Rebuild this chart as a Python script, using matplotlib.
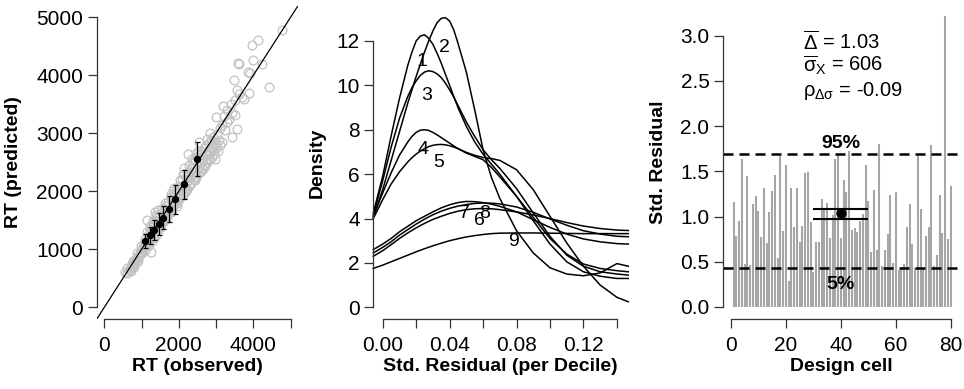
import matplotlib
matplotlib.use('Agg')
import matplotlib.pyplot as plt
import numpy as np

plt.rcParams['font.family'] = ['Liberation Sans', 'DejaVu Sans']
plt.rcParams['mathtext.fontset'] = 'custom'
plt.rcParams['mathtext.rm'] = 'Liberation Sans'
plt.rcParams['mathtext.it'] = 'Liberation Sans'
plt.rcParams['mathtext.bf'] = 'Liberation Sans:bold'

# ---- panel 1: observed vs predicted RT (per design cell x quantile)
rt_obs = [660, 690, 710, 730, 750, 770, 790, 810, 830, 850, 870, 890, 910, 930, 950,
          970, 990, 1010, 1030, 1050, 1070, 1090, 720, 800, 900, 1000, 760, 880, 980, 1060,
          1100, 1120, 1150, 1160, 1180, 1200, 1220, 1240, 1260, 1270, 1290, 1300, 1320, 1340,
          1350, 1360, 1380, 1400, 1420, 1440, 1450, 1460, 1480, 1500, 1520, 1540, 1550, 1560,
          1580, 1600, 1620, 1640, 1660, 1680, 1700, 1720, 1740, 1760, 1780, 1800, 1820, 1840,
          1850, 1860, 1880, 1900, 1920, 1940, 1960, 1980, 2000, 1250, 1400, 1600, 1800, 1950,
          2020, 2040, 2060, 2080, 2100, 2120, 2140, 2160, 2180, 2200, 2220, 2240, 2260, 2280,
          2300, 2320, 2340, 2360, 2380, 2400, 2420, 2440, 2460, 2480, 2500, 2520, 2540, 2560,
          2580, 2600, 2620, 2640, 2660, 2680, 2700, 2720, 2740, 2760, 2780, 2800, 2820, 2840,
          2860, 2880, 2900, 2920, 2940, 2960, 2980, 3000, 3020, 3050, 3080, 3100,
          3000, 3100, 3195, 3285, 3419, 3508, 3554, 3419, 3168, 3250, 3300, 3482, 3554, 3626,
          3750, 3508, 3598, 3620, 3866, 3900, 4000, 4242, 3973, 4134, 4421, 4779, 3886, 3700,
          3400, 3350, 3200, 3150,
          560, 600, 620, 1150, 1230, 1310, 1390, 1470, 1550, 1630, 1710, 1790, 1870, 1950,
          2030, 2110, 2190, 2270, 2350, 2430, 2510, 2590, 2670, 2750, 2830, 2910, 2990,
          1180, 1330, 1490, 1650, 1810, 1970, 2130, 2290, 2450, 2610, 2770, 2930,
          2250, 2550, 2850, 2150, 2450, 2750]
rt_pred = [640, 650, 700, 690, 740, 720, 760, 780, 790, 830, 820, 860, 890, 880, 930,
           940, 960, 1000, 990, 1040, 1030, 1070, 620, 700, 800, 930, 800, 940, 1050, 1110,
           1180, 1000, 1500, 1150, 1250, 1080, 1320, 1200, 1380, 1150, 1300, 1450, 1230, 1400,
           1650, 1290, 1480, 1350, 1550, 1380, 1680, 1450, 1600, 1420, 1560, 1480, 1700, 1620,
           1500, 1680, 1560, 1750, 1600, 1700, 1820, 1640, 1780, 1700, 1900, 1720, 1850, 1760,
           2000, 1900, 1780, 1950, 1850, 2050, 1900, 2000, 1920, 960, 1250, 1480, 1650, 1800,
           2090, 1900, 2020, 2190, 1940, 2090, 2290, 2000, 2140, 2240, 2040, 2190, 2340, 2090,
           2240, 2390, 2140, 2290, 2490, 2190, 2340, 2540, 2240, 2390, 2590, 2290, 2440, 2640,
           2340, 2490, 2690, 2390, 2560, 2740, 2440, 2620, 2790, 2500, 2640, 2840, 2540, 2690,
           2890, 2600, 2740, 2940, 2640, 2790, 2560, 2840, 2990, 2690, 2890, 2790,
           3275, 3100, 3470, 3400, 3355, 3315, 3068, 2930, 2855, 3050, 3200, 3918, 3745, 3671,
           3586, 3574, 4206, 4190, 4063, 4040, 4264, 4195, 4522, 4609, 3804, 4781, 3700, 3620,
           3500, 3250, 3300, 3150,
           610, 600, 680, 1300, 1400, 1480, 1600, 1350, 1700, 1800, 1600, 1950, 2050, 1750,
           2200, 2300, 2000, 2450, 2550, 2200, 2700, 2350, 2450, 2650, 2550, 2750, 2750,
           1090, 1200, 1380, 1520, 1680, 1830, 1970, 2120, 2260, 2400, 2560, 2700,
           2650, 2850, 3000, 2400, 2650, 2900]
dec_obs = [1093, 1227, 1342, 1460, 1584, 1737, 1906, 2148, 2497]
dec_pred = [1148, 1241, 1333, 1431, 1545, 1690, 1862, 2121, 2562]
dec_err = [120, 145, 170, 190, 200, 225, 245, 250, 295]

# ---- panel 2: density of std. residuals per decile
# deciles 1-5 are peaked, read on a finer grid
peak_x = [-0.0056, 0.0, 0.005, 0.01, 0.015, 0.0175, 0.02, 0.0225, 0.025, 0.0275, 0.03,
          0.0325, 0.035, 0.0375, 0.04, 0.0425, 0.045, 0.05, 0.055, 0.06, 0.065, 0.07,
          0.08, 0.09, 0.10, 0.11, 0.12, 0.13, 0.14, 0.1468]
dens_1 = [4.25, 5.9, 7.7, 9.4, 10.9, 11.5, 12.0, 12.22, 12.28, 12.12, 11.85, 11.45, 11.0,
          10.5, 10.0, 9.5, 9.0, 8.15, 7.45, 6.9, 6.45, 6.0, 5.0, 3.9, 2.85, 2.05, 1.6, 1.4,
          1.3, 1.3]
dens_2 = [4.05, 5.3, 6.6, 7.9, 9.2, 9.8, 10.4, 10.95, 11.5, 12.0, 12.45, 12.82, 13.02,
          13.05, 12.9, 12.5, 11.9, 10.6, 8.9, 7.1, 5.85, 4.91, 3.45, 2.45, 1.78, 1.5, 1.42,
          1.55, 1.97, 1.85]
dens_3 = [4.15, 5.7, 7.2, 8.5, 9.5, 9.9, 10.2, 10.45, 10.6, 10.66, 10.62, 10.52, 10.35,
          10.1, 9.8, 9.47, 9.1, 8.35, 7.7, 7.1, 6.65, 6.26, 5.35, 4.25, 3.2, 2.35, 1.85, 1.6,
          1.5, 1.45]
dens_4 = [4.1, 5.15, 6.05, 6.85, 7.45, 7.7, 7.88, 7.98, 8.0, 7.97, 7.88, 7.77, 7.65, 7.52,
          7.4, 7.27, 7.15, 6.95, 6.8, 6.65, 6.3, 5.88, 5.0, 4.05, 3.1, 2.4, 1.95, 1.75, 1.65,
          1.6]
dens_5 = [4.0, 4.85, 5.55, 6.1, 6.55, 6.74, 6.9, 7.04, 7.15, 7.24, 7.3, 7.33, 7.34, 7.32,
          7.28, 7.22, 7.15, 6.98, 6.85, 6.75, 6.7, 6.62, 6.2, 5.3, 4.1, 2.9, 1.85, 1.0, 0.45,
          0.25]
# deciles 6-9 are flat
flat_x = [-0.0056, 0.0, 0.005, 0.01, 0.015, 0.02, 0.025, 0.03, 0.035, 0.04, 0.045, 0.05,
          0.055, 0.06, 0.065, 0.07, 0.08, 0.09, 0.10, 0.11, 0.12, 0.13, 0.14, 0.1468]
dens_6 = [2.3, 2.55, 2.82, 3.1, 3.35, 3.58, 3.78, 3.96, 4.1, 4.23, 4.33, 4.4,
          4.44, 4.45, 4.44, 4.4, 4.3, 4.16, 4.0, 3.82, 3.66, 3.55, 3.48, 3.46]
dens_7 = [2.6, 2.85, 3.1, 3.4, 3.65, 3.9, 4.1, 4.3, 4.48, 4.62, 4.72, 4.77,
          4.76, 4.72, 4.65, 4.55, 4.3, 3.95, 3.6, 3.3, 3.08, 2.95, 2.87, 2.85]
dens_8 = [2.45, 2.7, 2.95, 3.25, 3.5, 3.75, 3.97, 4.17, 4.33, 4.46, 4.56, 4.63,
          4.68, 4.7, 4.69, 4.66, 4.52, 4.28, 3.98, 3.7, 3.45, 3.3, 3.2, 3.18]
dens_9 = [1.75, 1.9, 2.05, 2.2, 2.35, 2.5, 2.64, 2.77, 2.89, 3.0, 3.09, 3.17,
          3.23, 3.28, 3.32, 3.34, 3.35, 3.35, 3.34, 3.33, 3.32, 3.32, 3.32, 3.32]
decile_names = ['1', '2', '3', '4', '5', '6', '7', '8', '9']
label_x = [0.0233, 0.0367, 0.0263, 0.0239, 0.0337, 0.058, 0.049, 0.061, 0.078]
label_y = [11.06, 11.71, 9.56, 7.13, 6.53, 3.93, 4.23, 4.23, 2.96]

# ---- panel 3: std. residual per design cell
cell_resid = [1.16, 0.78, 0.95, 1.64, 0.48, 1.45, 0.46, 1.14, 1.23, 1.06,
              0.77, 1.32, 0.71, 1.05, 1.28, 1.46, 0.54, 1.67, 0.84, 1.57,
              0.29, 1.32, 0.89, 1.32, 0.72, 0.90, 1.48, 1.49, 0.94, 0.39,
              0.72, 0.72, 1.19, 1.10, 1.15, 0.76, 1.02, 1.64, 1.68, 0.76,
              1.40, 1.27, 1.72, 0.85, 0.87, 0.83, 0.95, 1.03, 1.57, 1.17,
              0.61, 1.29, 0.63, 1.80, 0.45, 0.63, 0.81, 1.24, 0.49, 1.27,
              0.41, 0.42, 0.48, 0.88, 1.14, 0.70, 0.43, 1.67, 1.08, 0.43,
              0.78, 0.89, 1.79, 0.45, 0.58, 1.24, 0.82, 3.22, 0.75, 1.34]
q95, q05 = 1.69, 0.43
mean_resid, mean_lo, mean_hi = 1.036, 0.973, 1.084
mean_span = (30, 50)
stats_text = [r'$\overline{\Delta}$ = 1.03', r'$\overline{\sigma}_X$ = 606',
              r'$\rho_{\Delta\sigma}$ = -0.09']

W, H = 964, 389
fig = plt.figure(figsize=(W / 100, H / 100), dpi=100)


def add_ax(left, right, top=5.7, bottom=319.0):
    return fig.add_axes([left / W, 1 - bottom / H, (right - left) / W, (bottom - top) / H])


def r_style(ax, xt, yt):
    # base-R look: no box, axis lines only over the tick range
    for s in ['top', 'right']:
        ax.spines[s].set_visible(False)
    for s in ['left', 'bottom']:
        ax.spines[s].set_linewidth(0.9)
        ax.spines[s].set_color('#333333')
    ax.spines['left'].set_bounds(yt[0], yt[-1])
    ax.spines['bottom'].set_bounds(xt[0], xt[-1])
    ax.set_xticks(xt)
    ax.set_yticks(yt)
    ax.tick_params(length=6.3, width=0.9, color='#333333', labelsize=15, direction='out')
    ax.tick_params(axis='x', pad=6)
    ax.tick_params(axis='y', pad=3.5)


lab = dict(fontsize=14, fontweight='bold', va='center')

# panel 1
ax1 = add_ax(96.85, 298)
ax1.set_xlim(-200, 5200)
ax1.set_ylim(-201.7, 5200)
ax1.plot(rt_obs, rt_pred, 'o', mfc='none', mec='#c2c2c2', ms=6.3, mew=0.9, zorder=1)
ax1.axline((0, 0), slope=1, color='black', lw=0.9, zorder=2)
ax1.errorbar(dec_obs, dec_pred, yerr=dec_err, fmt='o', color='black', ms=4.3,
             elinewidth=0.9, capsize=1.8, capthick=0.9, zorder=3)
r_style(ax1, [0, 1000, 2000, 3000, 4000, 5000], [0, 1000, 2000, 3000, 4000, 5000])
ax1.set_xticklabels(['0', '', '2000', '', '4000', ''])
ax1.set_xlabel('RT (observed)', **lab)
ax1.set_ylabel('RT (predicted)', **lab)
ax1.xaxis.set_label_coords(0.5, -0.153)
ax1.yaxis.set_label_coords(-0.413, 0.5)

# panel 2
ax2 = add_ax(373.3, 628.3)
ax2.set_xlim(-0.0056, 0.1468)
ax2.set_ylim(-0.527, 13.59)
for d in [dens_1, dens_2, dens_3, dens_4, dens_5]:
    ax2.plot(peak_x, d, color='black', lw=1.1, clip_on=False)
for d in [dens_6, dens_7, dens_8, dens_9]:
    ax2.plot(flat_x, d, color='black', lw=1.1, clip_on=False)
for name, lx, ly in zip(decile_names, label_x, label_y):
    ax2.text(lx, ly, name, fontsize=14, ha='center', va='center')
r_style(ax2, [0.0, 0.02, 0.04, 0.06, 0.08, 0.10, 0.12, 0.14], [0, 2, 4, 6, 8, 10, 12])
ax2.set_xticklabels(['0.00', '', '0.04', '', '0.08', '', '0.12', ''])
ax2.set_xlabel('Std. Residual (per Decile)', **lab)
ax2.set_ylabel('Density', **lab)
ax2.xaxis.set_label_coords(0.5, -0.153)
ax2.yaxis.set_label_coords(-0.221, 0.5)

# panel 3
ax3 = add_ax(723, 959.4)
ax3.set_xlim(-2.91, 83.16)
ax3.set_ylim(-0.133, 3.332)
cells = np.arange(1, len(cell_resid) + 1)
ax3.vlines(cells, 0, cell_resid, color='#a6a6a6', lw=1.5, zorder=1)
for q in (q95, q05):
    ax3.axhline(q, color='black', lw=1.8, linestyle=(0, (4, 2.4)), zorder=2)
ax3.text(40, q95 + 0.025, '95%', fontsize=14, fontweight='bold', ha='center', va='bottom')
ax3.text(40, q05 - 0.09, '5%', fontsize=14, fontweight='bold', ha='center', va='top')
ax3.hlines([mean_lo, mean_hi], mean_span[0], mean_span[1], color='black', lw=1.5, zorder=3)
ax3.plot([40], [mean_resid], 'o', color='black', ms=6.5, zorder=4)
for txt, yb in zip(stats_text, [2.842, 2.602, 2.333]):
    ax3.text(26.2, yb, txt, fontsize=14.5, ha='left', va='baseline')
r_style(ax3, [0, 20, 40, 60, 80], [0.0, 0.5, 1.0, 1.5, 2.0, 2.5, 3.0])
ax3.set_yticklabels(['0.0', '0.5', '1.0', '1.5', '2.0', '2.5', '3.0'])
ax3.set_xlabel('Design cell', **lab)
ax3.set_ylabel('Std. Residual', **lab)
ax3.xaxis.set_label_coords(0.5, -0.153)
ax3.yaxis.set_label_coords(-0.271, 0.5)

fig.savefig('out.png', dpi=100)
